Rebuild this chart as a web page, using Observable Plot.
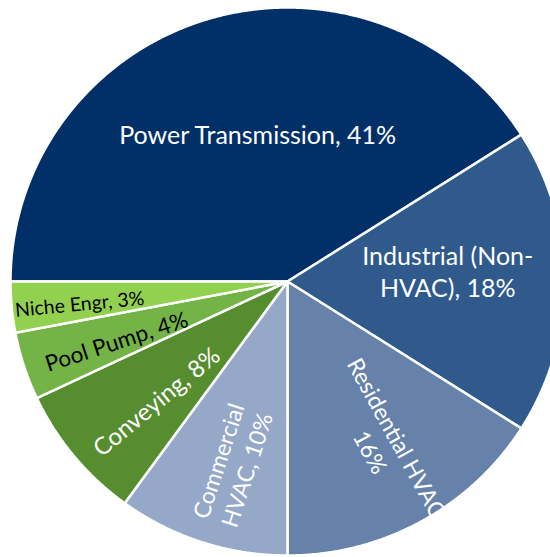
<!DOCTYPE html>
<html>
<head>
<meta charset="utf-8">
<script src="https://cdn.jsdelivr.net/npm/d3@7"></script>
<script src="https://cdn.jsdelivr.net/npm/@observablehq/plot@0.6"></script>
<style>
  html, body { margin: 0; padding: 0; background: #fff; overflow: hidden; }
  #chart svg { display: block; }
</style>
</head>
<body>
<div id="chart"></div>
<script>
// ---- data ----
const categories = ["Power Transmission", "Industrial (Non-HVAC)", "Residential HVAC", "Commercial HVAC", "Conveying", "Pool Pump", "Niche Engr"];
const shares = [41, 18, 16, 10, 8, 4, 3];
const labelTexts = ["Power Transmission, 41%", "Industrial (Non-\nHVAC), 18%", "Residential HVAC\n16%", "Commercial\nHVAC, 10%", "Conveying, 8%", "Pool Pump, 4%", "Niche Engr, 3%"];

// ---- styles / layout ----
const sliceColors = ["#013069", "#30598c", "#6681aa", "#95a8c8", "#558d2f", "#74b447", "#92d150"];
const labelColors = ["white", "white", "white", "white", "white", "black", "black"];
const labelRadius = [0.55, 0.58, 0.69, 0.70, 0.645, 0.655, 0.755];
const labelAngleShift = [4.9, -4, -1.7, -1.2, -2.7, -1.1, -0.5];
const labelRadial = [false, false, true, true, true, true, true];
const labelSize = [25, 25, 23, 23, 24, 22.5, 19.5];
const startDeg = -90; // slices start pointing left, clockwise

const total = d3.sum(shares);
const rad = Math.PI / 180;

// slice polygons in unit-circle coordinates (y up)
const slicePts = [];
const labels = [];
let acc = startDeg;
categories.forEach((name, i) => {
  const a0 = acc, a1 = acc + shares[i] / total * 360;
  acc = a1;
  slicePts.push({name, u: 0, v: 0, color: sliceColors[i]});
  const n = Math.max(2, Math.ceil((a1 - a0) * 4));
  for (let k = 0; k <= n; k++) {
    const a = (a0 + (a1 - a0) * k / n) * rad;
    slicePts.push({name, u: Math.sin(a), v: Math.cos(a), color: sliceColors[i]});
  }
  slicePts.push({name, u: 0, v: 0, color: sliceColors[i]});
  const mid = (a0 + a1) / 2;
  const la = (mid + labelAngleShift[i]) * rad;
  let rot = 0;
  if (labelRadial[i]) {
    rot = mid - 90;
    while (rot > 90) rot -= 180;
    while (rot < -90) rot += 180;
  }
  labels.push({
    text: labelTexts[i],
    u: labelRadius[i] * Math.sin(la),
    v: labelRadius[i] * Math.cos(la),
    rotate: rot,
    color: labelColors[i],
    size: labelSize[i]
  });
});

const cx = 287, cy = 281, rx = 277, ry = 274;

const chart = Plot.plot({
  width: 550,
  height: 557,
  margin: 0,
  style: {fontFamily: "Lato, 'Open Sans', sans-serif", background: "white"},
  x: {domain: [-1, 1], range: [cx - rx, cx + rx], axis: null},
  y: {domain: [-1, 1], range: [cy + ry, cy - ry], axis: null},
  color: {type: "identity"},
  marks: [
    Plot.line(slicePts, {x: "u", y: "v", z: "name", fill: "color", stroke: "white", strokeWidth: 2.5, strokeLinejoin: "miter", curve: "linear", clip: true}),
    Plot.text(labels, {x: "u", y: "v", text: "text", rotate: "rotate", fill: "color", fontSize: "size", lineHeight: 1.3, textAnchor: "middle"})
  ]
});
document.getElementById("chart").appendChild(chart);
</script>
</body>
</html>
